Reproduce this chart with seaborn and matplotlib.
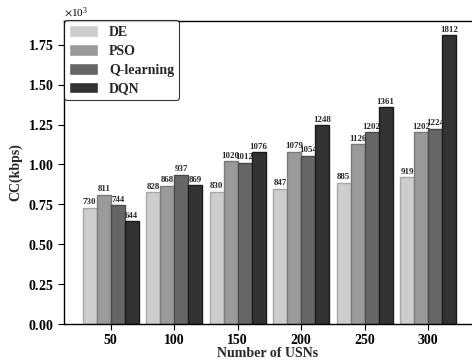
import matplotlib
matplotlib.use("Agg")
import matplotlib.pyplot as plt
import seaborn as sns
import pandas as pd

# Capacity (kbps) for each algorithm versus the number of USNs
usn_counts = [50, 100, 150, 200, 250, 300]
algorithms = ["DE", "PSO", "Q-learning", "DQN"]
cc_de = [730, 828, 830, 847, 885, 919]
cc_pso = [811, 868, 1020, 1079, 1126, 1202]
cc_qlearning = [744, 937, 1012, 1054, 1202, 1224]
cc_dqn = [644, 869, 1076, 1248, 1361, 1812]

series = {"DE": cc_de, "PSO": cc_pso, "Q-learning": cc_qlearning, "DQN": cc_dqn}
rows = []
for alg in algorithms:
    for n, v in zip(usn_counts, series[alg]):
        rows.append({"USNs": str(n), "Algorithm": alg, "CC": v})
df = pd.DataFrame(rows)

sns.set_theme(style="ticks")
plt.rcParams["font.family"] = ["Liberation Serif", "DejaVu Serif"]
plt.rcParams["mathtext.fontset"] = "stix"

fill_colors = ["#cdcdcd", "#9a9a9a", "#666666", "#333333"]
edge_colors = ["#a8a8a8", "#7a7a7a", "#4a4a4a", "#1a1a1a"]

fig = plt.figure(figsize=(4.72, 3.64), dpi=100)
ax = fig.add_axes([64 / 472, 40 / 364, 1.0 - 64 / 472, 303.5 / 364])

sns.barplot(data=df, x="USNs", y="CC", hue="Algorithm", hue_order=algorithms,
            palette=fill_colors, width=0.88, ax=ax, saturation=1)

for container, ec in zip(ax.containers, edge_colors):
    for bar in container:
        bar.set_edgecolor(ec)
        bar.set_linewidth(1.0)
    ax.bar_label(container, fmt="%d", padding=1, fontsize=6.4, fontweight="bold")

ax.set_xlim(-0.735, 5.69)
ax.set_ylim(0, max(cc_dqn) * 1.05)
ax.set_yticks([0, 250, 500, 750, 1000, 1250, 1500, 1750])
ax.ticklabel_format(axis="y", style="sci", scilimits=(0, 0), useMathText=True)
ax.yaxis.get_offset_text().set_fontsize(8)

ax.set_xlabel("Number of USNs", fontsize=10, fontweight="bold", labelpad=0)
ax.set_ylabel("CC(kbps)", fontsize=10, fontweight="bold", labelpad=4)
for lbl in ax.get_xticklabels() + ax.get_yticklabels():
    lbl.set_fontweight("bold")
    lbl.set_fontsize(10)
ax.tick_params(axis="both", length=4, width=0.8, colors="black")
ax.spines["right"].set_visible(False)
for s in ["left", "top", "bottom"]:
    ax.spines[s].set_color("black")
    ax.spines[s].set_linewidth(1.0)

leg = ax.legend(loc="upper left", borderaxespad=0, frameon=True, fancybox=True,
                prop={"weight": "bold", "size": 10}, handlelength=2.1,
                handleheight=0.9, labelspacing=0.38, borderpad=0.35,
                handletextpad=0.8)
leg.get_frame().set_edgecolor("black")
leg.get_frame().set_linewidth(0.8)
leg.set_title(None)

fig.savefig("out.png", dpi=100)
